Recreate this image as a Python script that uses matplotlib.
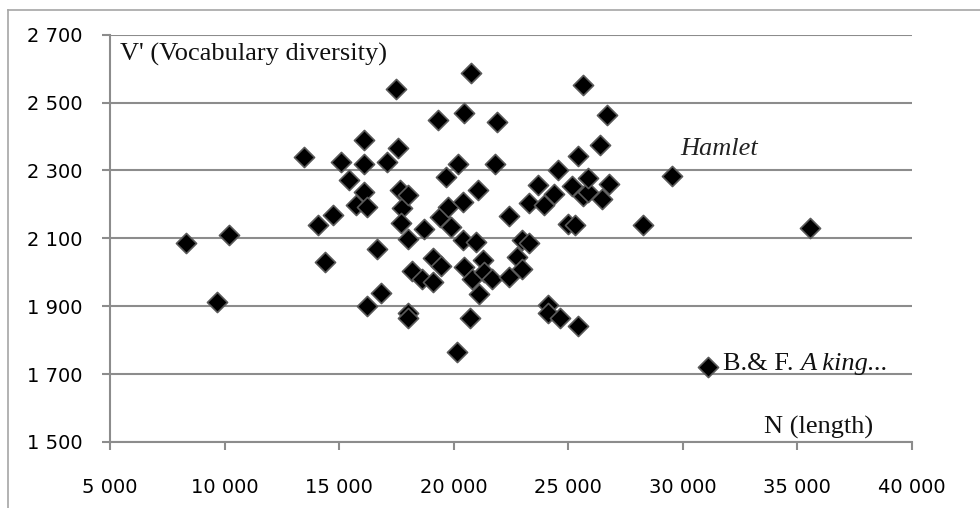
import matplotlib
matplotlib.use("Agg")
import matplotlib.pyplot as plt
from matplotlib.lines import Line2D

# play length (tokens) vs vocabulary diversity
n_length = [
    8300, 10200, 9650, 13450, 14100, 14380, 14750, 15080, 15420, 15720,
    16100, 16080, 16070, 16220, 16200, 16660, 16840, 17080, 17470, 17580,
    17660, 17730, 18020, 17700, 18020, 18700, 18020, 18020, 18180, 18600,
    19080, 19110, 19450, 19330, 19690, 19420, 19770, 19870, 20200, 20460,
    20740, 20400, 21050, 20390, 20960, 20130, 20440, 20720, 20800, 21100,
    21270, 21330, 21660, 21880, 21800, 22440, 22430, 22780, 22970, 22990,
    23310, 23300, 23680, 23950, 24130, 24130, 24640, 25440, 24400, 24540,
    24980, 25320, 25160, 25440, 25630, 25660, 25880, 25880, 26500, 26410,
    26680, 26780, 28280, 29520, 31120, 35550,
]
v_diversity = [
    2085, 2110, 1913, 2341, 2139, 2031, 2169, 2324, 2272, 2198,
    2236, 2391, 2320, 2193, 1901, 2068, 1938, 2325, 2539, 2367,
    2243, 2188, 2228, 2145, 2098, 2128, 1879, 1866, 2004, 1980,
    1972, 2041, 2020, 2449, 2282, 2164, 2193, 2134, 2320, 2468,
    2587, 2206, 2243, 2094, 2088, 1764, 2016, 1864, 1980, 1937,
    2037, 2002, 1979, 2444, 2319, 2165, 1985, 2046, 2009, 2095,
    2087, 2205, 2256, 2198, 1904, 1879, 1864, 1842, 2232, 2301,
    2141, 2139, 2254, 2343, 2552, 2226, 2236, 2277, 2217, 2374,
    2462, 2261, 2140, 2283, 1722, 2130,
]

x_ticks = [5000, 10000, 15000, 20000, 25000, 30000, 35000, 40000]
x_tick_labels = ["5 000", "10 000", "15 000", "20 000", "25 000", "30 000", "35 000", "40 000"]
y_ticks = [1500, 1700, 1900, 2100, 2300, 2500, 2700]
y_tick_labels = ["1 500", "1 700", "1 900", "2 100", "2 300", "2 500", "2 700"]

serif = "Liberation Serif"
grey = "#8c8c8c"

fig = plt.figure(figsize=(9.8, 5.08), dpi=100)
ax = fig.add_axes([110 / 980, 1 - 442 / 508, (911.7 - 110) / 980, (442 - 34.7) / 508])

ax.scatter(n_length, v_diversity, marker="D", s=105, c="black",
           edgecolors="#5a5a5a", linewidths=1.2, zorder=3)

ax.set_xlim(5000, 40000)
ax.set_ylim(1500, 2700)
ax.set_xticks(x_ticks)
ax.set_xticklabels(x_tick_labels)
ax.set_yticks(y_ticks)
ax.set_yticklabels(y_tick_labels)
ax.yaxis.grid(True, color=grey, linewidth=1.5)
ax.set_axisbelow(True)
for side in ("top", "right"):
    ax.spines[side].set_visible(False)
for side in ("left", "bottom"):
    ax.spines[side].set_color(grey)
    ax.spines[side].set_linewidth(1.5)
ax.tick_params(axis="both", direction="out", length=6, width=1.5, color=grey,
               labelsize=14, labelcolor="black")
ax.tick_params(axis="x", pad=20)
ax.tick_params(axis="y", pad=14)

ax.text(5440, 2624, "V' (Vocabulary diversity)", family=serif, fontsize=19,
        ha="left", va="baseline", color="#111111")
ax.text(33550, 1526, "N (length)", family=serif, fontsize=19,
        ha="left", va="baseline", color="#111111")
ax.text(29880, 2346, "Hamlet", family=serif, style="italic", fontsize=19,
        ha="left", va="baseline", color="#222222")
bf = ax.text(31770, 1712, "B.& F. ", family=serif, fontsize=19,
             ha="left", va="baseline", color="#111111")
ax.annotate("A king...", xy=(1, 0), xycoords=bf, family=serif, style="italic",
            fontsize=19, ha="left", va="bottom", color="#111111")

# outer chart frame (cropped on right and bottom)
fig.add_artist(Line2D([8 / 980, 1], [1 - 10 / 508, 1 - 10 / 508],
                      transform=fig.transFigure, color="#a6a6a6", linewidth=1.2))
fig.add_artist(Line2D([8 / 980, 8 / 980], [0, 1 - 10 / 508],
                      transform=fig.transFigure, color="#a6a6a6", linewidth=1.2))

fig.savefig("out.png", dpi=100)
